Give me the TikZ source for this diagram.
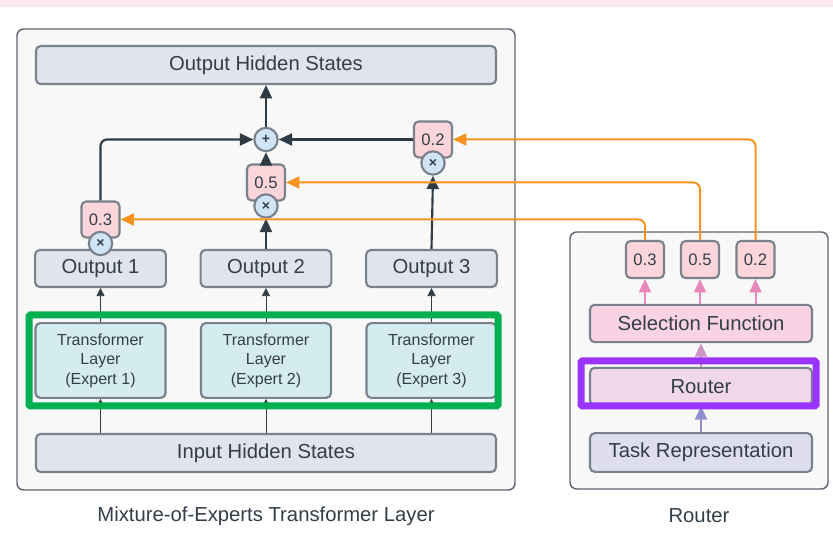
\documentclass[tikz,border=0pt]{standalone}
\usepackage{fontspec}
\setmainfont{Liberation Sans}
\usetikzlibrary{arrows.meta,positioning}
\definecolor{txt}{HTML}{333E48}
\definecolor{edge}{HTML}{79818D}
\definecolor{frame}{HTML}{5E6672}
\definecolor{panel}{HTML}{F8F8F8}
\definecolor{grey}{HTML}{E1E4EB}
\definecolor{cyanbox}{HTML}{D4ECF0}
\definecolor{weight}{HTML}{FCD5DA}
\definecolor{opbg}{HTML}{CFE4F5}
\definecolor{selbg}{HTML}{F9D3E3}
\definecolor{routbg}{HTML}{F0D8E8}
\definecolor{taskbg}{HTML}{DEDEEE}
\definecolor{darkline}{HTML}{2F3B45}
\definecolor{orangeline}{HTML}{F7931E}
\definecolor{pinkline}{HTML}{E887BA}
\definecolor{mauveline}{HTML}{D295C8}
\definecolor{lilacline}{HTML}{8F8FCF}
\definecolor{expgreen}{HTML}{00B050}
\definecolor{routpurple}{HTML}{9933FF}
\definecolor{band}{HTML}{FDE8EE}

\begin{document}
\begin{tikzpicture}[x=0.75pt,y=-0.75pt,text=txt,
    font=\fontsize{15.2}{18}\selectfont,
    box/.style={draw=edge,line width=1.6pt,rounded corners=3.5pt,inner sep=0pt,fill=grey},
    wide/.style={box,minimum width=345pt,minimum height=28.5pt},
    outbox/.style={box,minimum width=98pt,minimum height=27.75pt},
    expert/.style={box,fill=cyanbox,minimum width=97.5pt,minimum height=56pt,align=center,
      font=\fontsize{12}{14.6}\selectfont},
    wbox/.style={box,fill=weight,minimum width=28.5pt,minimum height=27pt,
      font=\fontsize{12.5}{14}\selectfont},
    rbox/.style={box,fill=weight,minimum width=28.5pt,minimum height=27.75pt,
      font=\fontsize{12.5}{14}\selectfont},
    rwide/.style={box,minimum width=166.5pt,minimum height=28pt},
    op/.style={circle,draw=edge,line width=1.6pt,fill=opbg,minimum size=17.5pt,inner sep=0pt,
      font=\fontsize{10.5}{10}\selectfont\bfseries},
    flow/.style={draw=darkline,line width=1.6pt,-{Triangle[length=10pt,width=9pt]}},
    thin/.style={draw=darkline,line width=0.6pt,-{Triangle[length=6pt,width=6pt]}},
    gate/.style={draw=orangeline,line width=1.5pt,rounded corners=5pt,-{Triangle[length=10pt,width=9pt]}}]
  \useasboundingbox (0,0) rectangle (833,555);
  \fill[band] (0,0) rectangle (833,7);
  \draw[frame,fill=panel,line width=1.1pt,rounded corners=5pt] (17,29) rectangle (515,490);
  \draw[frame,fill=panel,line width=1.1pt,rounded corners=5pt] (570,232) rectangle (828,489);

  \node[wide] (OHS) at (266,65) {Output Hidden States};
  \node[wide] (IHS) at (266,453) {Input Hidden States};
  \foreach \i/\x in {1/100.5,2/266,3/431.5} {
    \node[outbox] (O\i) at (\x,268.5) {Output \i};
    \node[expert] (T\i) at (\x,360.5) {Transformer\\Layer\\(Expert \i)};
    \draw[thin] (IHS.north -| T\i) to (T\i.south);
    \draw[thin] (T\i.north) to (O\i.south);
  }
  \draw[expgreen,line width=5.25pt,rounded corners=1pt] (29,315) rectangle (498,406);

  \node[wbox] (w1) at (100.5,219.5) {0.3};
  \node[op] (x1) at (100.5,243.5) {×};
  \node[wbox] (w2) at (266,182.5) {0.5};
  \node[op] (x2) at (266,206) {×};
  \node[wbox] (w3) at (433,139.5) {0.2};
  \node[op] (x3) at (433,163) {×};
  \node[op] (plus) at (266,139.5) {+};

  \draw[flow] (O2.north) to (x2.south);
  \draw[flow] (O3.north) to (x3.south);
  \draw[flow,rounded corners=5pt] (w1.north) |- (plus.west);
  \draw[flow] (w3.west) to (plus.east);
  \draw[flow] (w2.north) to (plus.south);
  \draw[flow] (plus.north) to (OHS.south);

  \node[rbox] (r1) at (645,259.5) {0.3};
  \node[rbox] (r2) at (700,259.5) {0.5};
  \node[rbox] (r3) at (755.5,259.5) {0.2};
  \node[rwide,fill=selbg] (sel) at (701,323.5) {Selection Function};
  \node[rwide,fill=routbg] (rout) at (701,386.5) {Router};
  \node[rwide,fill=taskbg,minimum height=29pt] (task) at (701,452.5) {Task Representation};

  \foreach \i in {1,2,3}
    \draw[draw=pinkline,line width=1.5pt,-{Triangle[length=10pt,width=9pt]}] (sel.north -| r\i) to (r\i.south);
  \draw[draw=mauveline,line width=1.5pt,-{Triangle[length=10pt,width=9pt]}] (rout.north) to (sel.south);
  \draw[draw=lilacline,line width=1.5pt,-{Triangle[length=10pt,width=9pt]}] (task.north) to (rout.south);
  \draw[routpurple,line width=5.25pt,rounded corners=1pt] (581,361) rectangle (816,406);

  \draw[gate] (r1.north) |- (w1.east);
  \draw[gate] (r2.north) |- (w2.east);
  \draw[gate] (r3.north) |- (w3.east);

  \node (cap1) at (266,516) {Mixture-of-Experts Transformer Layer};
  \node (cap2) at (699,516) {Router};
\end{tikzpicture}
\end{document}
